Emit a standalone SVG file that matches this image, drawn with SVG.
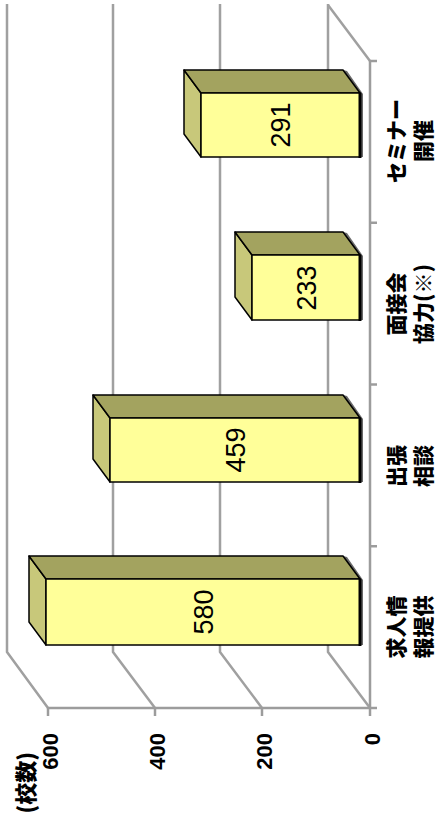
<svg xmlns="http://www.w3.org/2000/svg" width="438" height="822" viewBox="0 0 438 822">
<style>
.grid{stroke:#a0a0a0;stroke-width:2.5;fill:none;stroke-linejoin:round}
.axis{stroke:#9c9c9c;stroke-width:2.5;fill:none}
.front{fill:#ffff99;stroke:#000;stroke-width:1.5}
.side{fill:#c8c87a;stroke:#000;stroke-width:1.5;stroke-linejoin:round}
.topf{fill:#a3a35f;stroke:#000;stroke-width:1.5;stroke-linejoin:round}
.shadow{fill:#6a6a6a}
.edge{stroke:#000;stroke-width:3}
.val{font-family:"Liberation Sans",Arial,sans-serif;font-size:27px;text-anchor:middle;fill:#000}
.tick{font-family:"Liberation Sans","Noto Sans CJK JP",sans-serif;font-weight:bold;font-size:22px;text-anchor:end;fill:#000}
.unit{font-family:"Noto Sans CJK JP",sans-serif;font-weight:900;font-size:22px;text-anchor:end;fill:#000}
.cat{font-family:"Noto Sans CJK JP",sans-serif;font-weight:900;font-size:21px;text-anchor:middle;fill:#000}
</style>
<rect width="438" height="822" fill="#fff"/>
<g id="walls">
<polyline class="grid" points="7,4 7,652 48,708"/>
<polyline class="grid" points="113,4 113,652 155,708"/>
<polyline class="grid" points="220,4 220,652 262,708"/>
<polyline class="grid" points="328,4 328,652 370,708"/>
<line class="grid" x1="328" y1="5" x2="370" y2="61"/>
</g>
<g id="axes">
<line class="axis" x1="370" y1="60" x2="370" y2="709"/>
<line class="axis" x1="47" y1="708" x2="371" y2="708"/>
<line class="axis" x1="48" y1="708" x2="48" y2="716"/>
<line class="axis" x1="155" y1="708" x2="155" y2="716"/>
<line class="axis" x1="262" y1="708" x2="262" y2="716"/>
<line class="axis" x1="370" y1="708" x2="370" y2="716"/>
<line class="axis" x1="370" y1="61" x2="377" y2="61"/>
<line class="axis" x1="370" y1="222.75" x2="377" y2="222.75"/>
<line class="axis" x1="370" y1="384.5" x2="377" y2="384.5"/>
<line class="axis" x1="370" y1="546.25" x2="377" y2="546.25"/>
<line class="axis" x1="370" y1="708" x2="377" y2="708"/>
</g>
<g id="bar-1">
<polygon class="shadow" points="343,556 347,557 363,580 363,645 360,645 360,579"/>
<polygon class="side" points="29,556 46,579 46,645 29,622"/>
<polygon class="topf" points="29,556 343,556 360,579 46,579"/>
<rect class="front" x="46" y="579" width="314" height="66"/>
<line class="edge" x1="360" y1="579" x2="360" y2="646"/>
<text class="val" transform="translate(203,612) rotate(-90)" y="9.7">580</text>
</g>
<g id="bar-2">
<polygon class="shadow" points="343,395 347,396 363,419 363,482 360,482 360,418"/>
<polygon class="side" points="93,395 110,418 110,482 93,459"/>
<polygon class="topf" points="93,395 343,395 360,418 110,418"/>
<rect class="front" x="110" y="418" width="250" height="64"/>
<line class="edge" x1="360" y1="418" x2="360" y2="483"/>
<text class="val" transform="translate(235,450) rotate(-90)" y="9.7">459</text>
</g>
<g id="bar-3">
<polygon class="shadow" points="343,232 347,233 363,256 363,320 360,320 360,255"/>
<polygon class="side" points="235,232 252,255 252,320 235,297"/>
<polygon class="topf" points="235,232 343,232 360,255 252,255"/>
<rect class="front" x="252" y="255" width="108" height="65"/>
<line class="edge" x1="360" y1="255" x2="360" y2="321"/>
<text class="val" transform="translate(306,288) rotate(-90)" y="9.7">233</text>
</g>
<g id="bar-4">
<polygon class="shadow" points="343,70 347,71 363,94 363,157 360,157 360,93"/>
<polygon class="side" points="184,70 201,93 201,157 184,134"/>
<polygon class="topf" points="184,70 343,70 360,93 201,93"/>
<rect class="front" x="201" y="93" width="159" height="64"/>
<line class="edge" x1="360" y1="93" x2="360" y2="158"/>
<text class="val" transform="translate(280,125) rotate(-90)" y="9.7">291</text>
</g>
<g id="value-axis-labels">
<text class="tick" transform="translate(58,733) rotate(-90)">600</text>
<text class="tick" transform="translate(165,733) rotate(-90)">400</text>
<text class="tick" transform="translate(272,733) rotate(-90)">200</text>
<text class="tick" transform="translate(380,733) rotate(-90)">0</text>
<text class="unit" transform="translate(34,752) rotate(-90)">(校数)</text>
</g>
<g id="category-labels">
<text class="cat" transform="translate(404,627) rotate(-90)">求人情</text>
<text class="cat" transform="translate(431,627) rotate(-90)">報提供</text>
<text class="cat" transform="translate(404,466) rotate(-90)">出張</text>
<text class="cat" transform="translate(431,466) rotate(-90)">相談</text>
<text class="cat" transform="translate(404,304) rotate(-90)">面接会</text>
<text class="cat" transform="translate(431,304) rotate(-90)">協力(※)</text>
<text class="cat" transform="translate(404,141) rotate(-90)">セミナー</text>
<text class="cat" transform="translate(431,141) rotate(-90)">開催</text>
</g>
</svg>
